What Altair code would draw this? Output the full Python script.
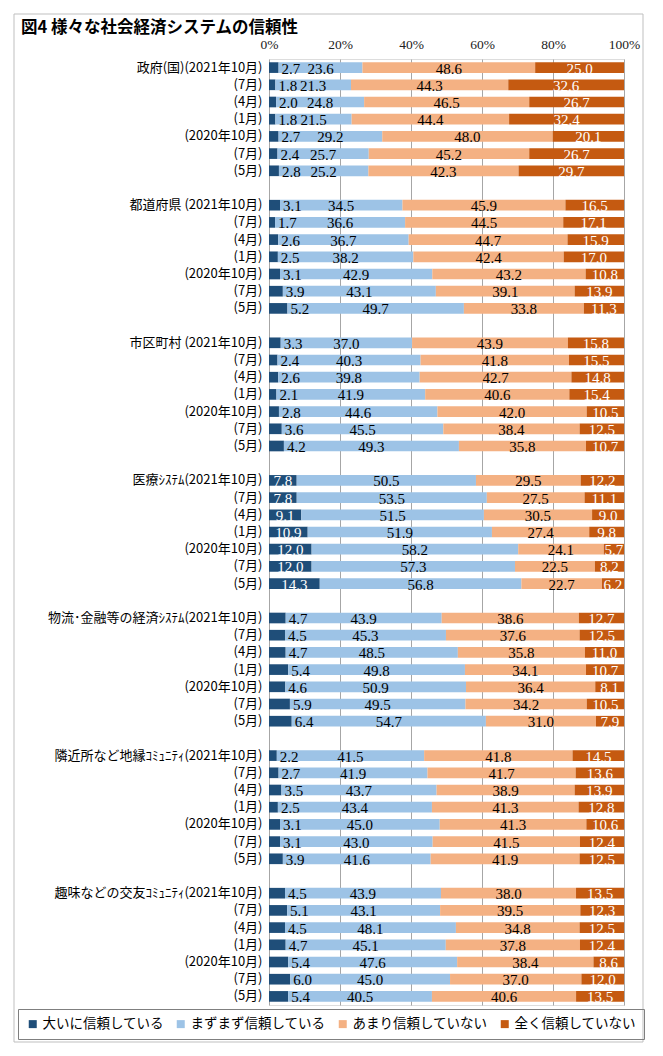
import json
import altair as alt
import pandas as pd

title_text = "図4 様々な社会経済システムの信頼性"
groups = ["政府(国)", "都道府県 ", "市区町村 ", "医療ｼｽﾃﾑ", "物流･金融等の経済ｼｽﾃﾑ",
          "隣近所など地縁ｺﾐｭﾆﾃｨ", "趣味などの交友ｺﾐｭﾆﾃｨ"]
periods = ["(2021年10月)", "(7月)", "(4月)", "(1月)", "(2020年10月)", "(7月)", "(5月)"]
categories = ["大いに信頼している", "まずまず信頼している", "あまり信頼していない", "全く信頼していない"]
colors = ["#1F4E79", "#9DC3E6", "#F4B183", "#C55A11"]
ticks = [0, 0.2, 0.4, 0.6, 0.8, 1.0]

great = [
    [2.7, 1.8, 2.0, 1.8, 2.7, 2.4, 2.8],
    [3.1, 1.7, 2.6, 2.5, 3.1, 3.9, 5.2],
    [3.3, 2.4, 2.6, 2.1, 2.8, 3.6, 4.2],
    [7.8, 7.8, 9.1, 10.9, 12.0, 12.0, 14.3],
    [4.7, 4.5, 4.7, 5.4, 4.6, 5.9, 6.4],
    [2.2, 2.7, 3.5, 2.5, 3.1, 3.1, 3.9],
    [4.5, 5.1, 4.5, 4.7, 5.4, 6.0, 5.4],
]
fair = [
    [23.6, 21.3, 24.8, 21.5, 29.2, 25.7, 25.2],
    [34.5, 36.6, 36.7, 38.2, 42.9, 43.1, 49.7],
    [37.0, 40.3, 39.8, 41.9, 44.6, 45.5, 49.3],
    [50.5, 53.5, 51.5, 51.9, 58.2, 57.3, 56.8],
    [43.9, 45.3, 48.5, 49.8, 50.9, 49.5, 54.7],
    [41.5, 41.9, 43.7, 43.4, 45.0, 43.0, 41.6],
    [43.9, 43.1, 48.1, 45.1, 47.6, 45.0, 40.5],
]
little = [
    [48.6, 44.3, 46.5, 44.4, 48.0, 45.2, 42.3],
    [45.9, 44.5, 44.7, 42.4, 43.2, 39.1, 33.8],
    [43.9, 41.8, 42.7, 40.6, 42.0, 38.4, 35.8],
    [29.5, 27.5, 30.5, 27.4, 24.1, 22.5, 22.7],
    [38.6, 37.6, 35.8, 34.1, 36.4, 34.2, 31.0],
    [41.8, 41.7, 38.9, 41.3, 41.3, 41.5, 41.9],
    [38.0, 39.5, 34.8, 37.8, 38.4, 37.0, 40.6],
]
none_at_all = [
    [25.0, 32.6, 26.7, 32.4, 20.1, 26.7, 29.7],
    [16.5, 17.1, 15.9, 17.0, 10.8, 13.9, 11.3],
    [15.8, 15.5, 14.8, 15.4, 10.5, 12.5, 10.7],
    [12.2, 11.1, 9.0, 9.8, 5.7, 8.2, 6.2],
    [12.7, 12.5, 11.0, 10.7, 8.1, 10.5, 7.9],
    [14.5, 13.6, 13.9, 12.8, 10.6, 12.4, 12.5],
    [13.5, 12.3, 12.5, 12.4, 8.6, 12.0, 13.5],
]
series = [great, fair, little, none_at_all]

n_slots = len(groups) * 8 - 1
labels = [""] * n_slots
rows = []
for g, gname in enumerate(groups):
    for p, per in enumerate(periods):
        slot = g * 8 + p
        labels[slot] = gname + per if p == 0 else per
        for k, cat in enumerate(categories):
            rows.append({"slot": slot, "k": k, "cat": cat, "value": series[k][g][p]})
df = pd.DataFrame(rows)

W, H = 355, 946
serif = "Liberation Serif"
gothic = "Noto Sans CJK JP"

base = alt.Chart(df).transform_stack(
    stack="value", groupby=["slot"], sort=[alt.SortField("k", order="ascending")],
    as_=["v0", "v1"], offset="normalize"
).transform_calculate(mid="(datum.v0 + datum.v1) / 2")

yenc = alt.Y("slot:O", scale=alt.Scale(domain=list(range(n_slots)), paddingInner=0.38, paddingOuter=0.19),
             axis=alt.Axis(title=None, labelExpr=json.dumps(labels, ensure_ascii=False) + "[datum.value]",
                           labelFont=gothic, labelFontSize=13, labelColor="#000000", ticks=False,
                           domain=False, labelPadding=7, labelLimit=300, grid=False))

bars = base.mark_bar().encode(
    x=alt.X("v0:Q", scale=alt.Scale(domain=[0, 1], nice=False),
            axis=alt.Axis(orient="top", title=None, values=ticks, format=".0%", labelFont=serif,
                          labelFontSize=13.5, labelColor="#222222", ticks=False, domain=False,
                          labelPadding=8, labelFlush=False, grid=True, gridColor="#a6a6a6",
                          gridWidth=1)),
    x2="v1:Q",
    y=yenc,
    color=alt.Color("cat:N", scale=alt.Scale(domain=categories, range=colors),
                    legend=alt.Legend(title=None, orient="none", legendX=-251, legendY=950,
                                      direction="horizontal", columns=4, symbolType="square",
                                      symbolSize=64, symbolStrokeWidth=0, labelFont=gothic,
                                      labelFontSize=13.5, labelColor="#000000", columnPadding=10,
                                      padding=8, strokeColor="#7f7f7f", labelOffset=3,
                                      labelLimit=300)),
)

text_center_white = base.transform_filter(
    "datum.k == 3 || (datum.k == 0 && datum.value >= 7)"
).mark_text(font=serif, fontSize=15, color="#ffffff", baseline="middle", align="center", dy=1).encode(
    x="mid:Q", y=alt.Y("slot:O"), text=alt.Text("value:Q", format=".1f"))

text_center_black = base.transform_filter(
    "datum.k == 1 || datum.k == 2"
).mark_text(font=serif, fontSize=15, color="#000000", baseline="middle", align="center", dy=1).encode(
    x="mid:Q", y=alt.Y("slot:O"), text=alt.Text("value:Q", format=".1f"))

text_left_black = base.transform_filter(
    "datum.k == 0 && datum.value < 7"
).mark_text(font=serif, fontSize=15, color="#000000", baseline="middle", align="left", dx=3, dy=1).encode(
    x="v1:Q", y=alt.Y("slot:O"), text=alt.Text("value:Q", format=".1f"))

frame = alt.Chart(alt.Data(values=[{"f": 1}])).mark_rect(fill="transparent", stroke="#bfbfbf", strokeWidth=1).encode(
    x=alt.value(-255), x2=alt.value(374), y=alt.value(-45), y2=alt.value(983))

title = alt.Chart(alt.Data(values=[{"t": title_text}])).mark_text(
    font=gothic, fontSize=16.5, fontWeight="bold", color="#000000", align="left", baseline="middle"
).encode(text="t:N", x=alt.value(-248), y=alt.value(-31))

chart = alt.layer(frame, bars, text_center_white, text_center_black, text_left_black, title).properties(
    width=W, height=H,
    autosize=alt.AutoSizeParams(type="none"),
    padding={"left": 261, "top": 51, "right": 25, "bottom": 38},
).configure_view(stroke="#8c8c8c", strokeWidth=1).configure(background="#ffffff")

chart.save("out.html", embed_options={"renderer": "svg", "actions": False})
